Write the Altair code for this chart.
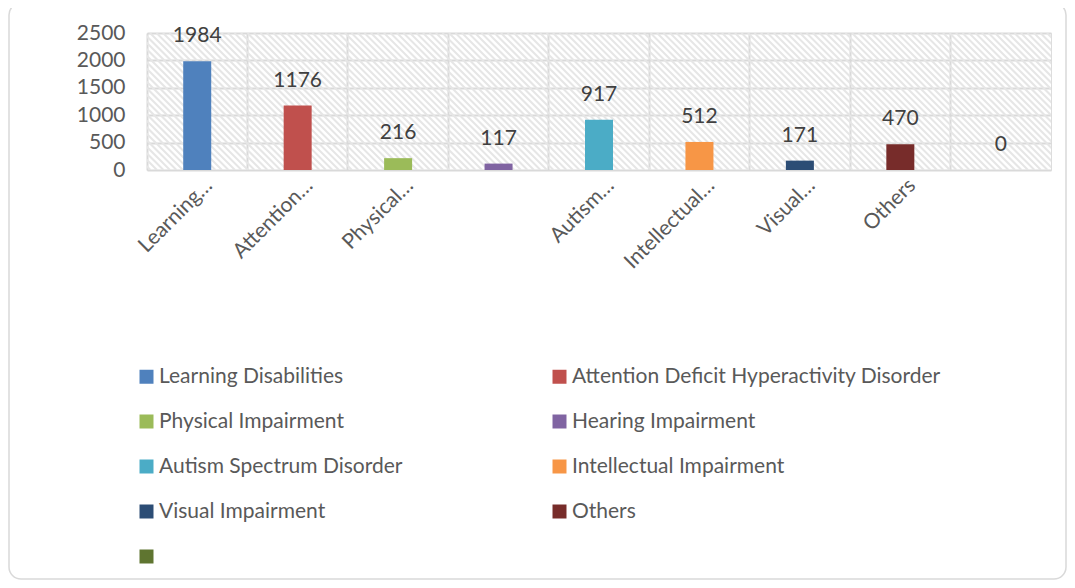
import altair as alt
import pandas as pd

categories = [
    "Learning Disabilities",
    "Attention Deficit Hyperactivity Disorder",
    "Physical Impairment",
    "Hearing Impairment",
    "Autism Spectrum Disorder",
    "Intellectual Impairment",
    "\u2002Visual Impairment",
    "Others",
    "",
]
values = [1984, 1176, 216, 117, 917, 512, 171, 470, 0]
tick_labels = ["Learning…", "Attention…", "Physical…", "", "Autism…",
               "Intellectual…", "Visual…", "Others", ""]
colors = ["#4F81BD", "#C0504D", "#9BBB59", "#8064A2", "#4BACC6",
          "#F79646", "#2C4D75", "#772C2A", "#5F7530"]
y_ticks = [0, 500, 1000, 1500, 2000, 2500]

W, H = 904, 137
FONT = "Lato"
FS = 21
GRID = "#d9d9d9"

df = pd.DataFrame({"name": categories, "value": values})

cat_js = "[" + ",".join("'" + c.replace("'", "\\'") + "'" for c in categories) + "]"
lab_js = "[" + ",".join("'" + t + "'" for t in tick_labels) + "]"
label_expr = f"{lab_js}[indexof({cat_js}, datum.value)]"

x_enc = alt.X(
    "name:N",
    sort=categories,
    scale=alt.Scale(domain=categories, paddingInner=0, paddingOuter=0),
    axis=alt.Axis(
        title=None, labelAngle=-45, labelAlign="right", labelBaseline="middle",
        labelExpr=label_expr, labelFont=FONT, labelFontSize=FS, labelColor="#595959",
        labelPadding=12, labelOffset=12, ticks=False, domain=False,
        grid=True, gridColor=GRID, gridWidth=2, bandPosition=0, labelLimit=300,
        labelOverlap=False,
    ),
)
y_enc = alt.Y(
    "value:Q",
    scale=alt.Scale(domain=[0, 2500], nice=False),
    axis=alt.Axis(
        title=None, values=y_ticks, tickCount=6, format="d", labelOverlap=False,
        labelFont=FONT, labelFontSize=FS, labelColor="#595959", labelPadding=22,
        ticks=False, domain=False, grid=True, gridColor=GRID, gridWidth=2,
    ),
)

hatch = alt.Chart(alt.sequence(-140, 910, 6.5, as_="k")).transform_calculate(
    k2="datum.k + 137"
).mark_rule(clip=True, color="#e6e6e6", strokeWidth=2).encode(
    x=alt.X("k:Q", scale=alt.Scale(domain=[0, W], nice=False, zero=False), axis=None),
    x2="k2:Q",
    y=alt.value(0),
    y2=alt.value(H),
)

bars = alt.Chart(df).mark_bar(size=28).encode(
    x=x_enc,
    y=y_enc,
    color=alt.Color(
        "name:N",
        sort=categories,
        scale=alt.Scale(domain=categories, range=colors),
        legend=alt.Legend(
            title=None, orient="none", legendX=-11, legendY=333, columns=2,
            direction="horizontal", gridAlign="all", columnPadding=21, rowPadding=23,
            symbolType="square", symbolSize=196, symbolStrokeWidth=0,
            labelFont=FONT, labelFontSize=FS, labelColor="#595959",
            labelOffset=2, labelLimit=500, padding=0,
        ),
    ),
)

labels = alt.Chart(df).mark_text(
    font=FONT, fontSize=FS, color="#404040", baseline="middle", dy=-25
).encode(
    x=x_enc,
    y=y_enc,
    text="value:Q",
)

frame = alt.Chart(pd.DataFrame({"a": [0]})).mark_rect(
    fill="transparent", stroke="#d9d9d9", strokeWidth=1.5, cornerRadius=12, clip=False
).encode(
    x=alt.value(-138), x2=alt.value(919), y=alt.value(-30), y2=alt.value(546)
)

main = alt.layer(bars, labels)
chart = alt.layer(hatch, main, frame).resolve_scale(x="independent").properties(
    width=W, height=H,
    autosize=alt.AutoSizeParams(type="none"),
    padding={"left": 139, "top": 25, "right": 16, "bottom": 410},
).configure_view(stroke=GRID, strokeWidth=2).configure(background="white")

chart.save("out.html", embed_options={"renderer": "svg", "actions": False})
